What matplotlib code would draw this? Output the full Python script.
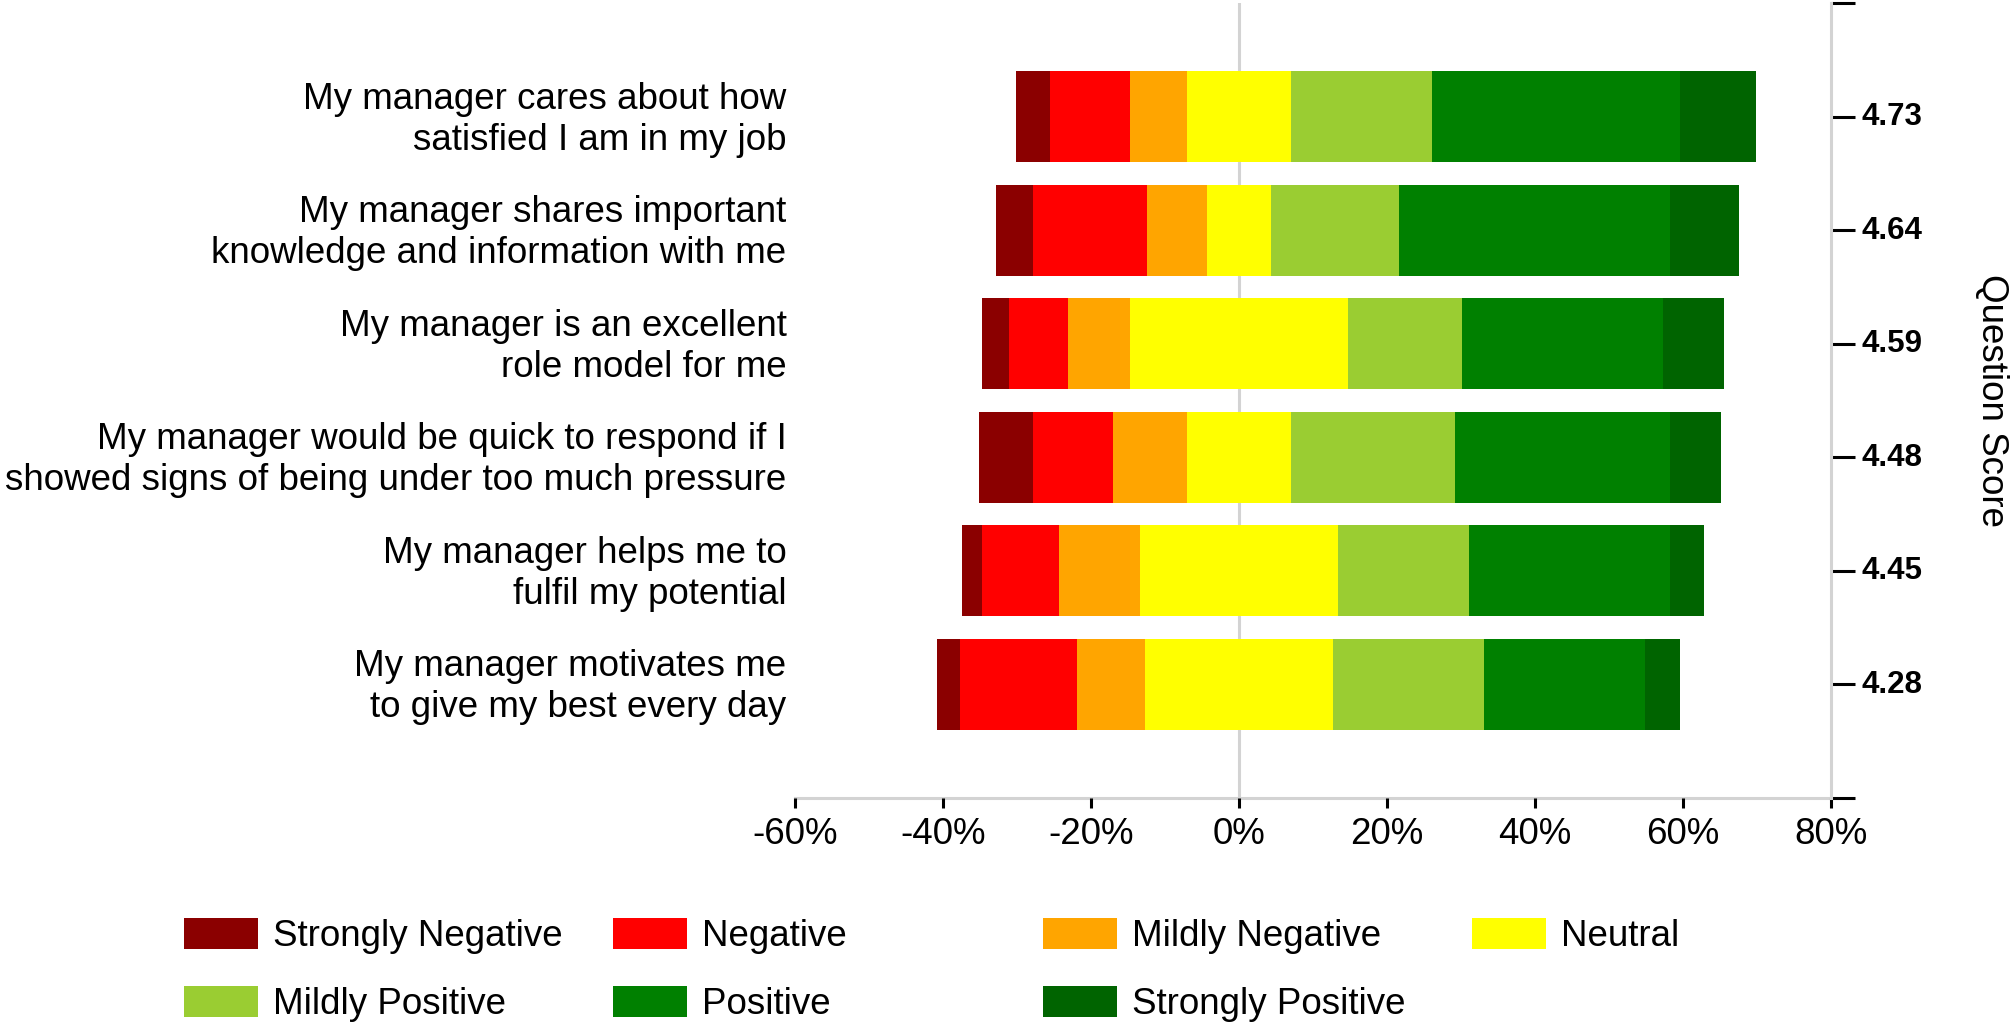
import matplotlib
matplotlib.use("Agg")
import matplotlib.pyplot as plt
from matplotlib.patches import Rectangle
from matplotlib.transforms import ScaledTranslation
import numpy as np

plt.rcParams['font.family'] = ['Liberation Sans', 'DejaVu Sans']

questions = [
    "My manager cares about how\nsatisfied I am in my job",
    "My manager shares important\nknowledge and information with me",
    "My manager is an excellent\nrole model for me",
    "My manager would be quick to respond if I\nshowed signs of being under too much pressure",
    "My manager helps me to\nfulfil my potential",
    "My manager motivates me\nto give my best every day",
]
scores = ["4.73", "4.64", "4.59", "4.48", "4.45", "4.28"]

strongly_negative = [4.5, 4.9, 3.7, 7.2, 2.7, 3.1]
negative = [10.9, 15.5, 8.0, 10.9, 10.4, 15.8]
mildly_negative = [7.7, 8.1, 8.3, 10.0, 10.9, 9.2]
neutral = [14.0, 8.6, 29.5, 14.0, 26.8, 25.3]
mildly_positive = [19.1, 17.3, 15.4, 22.2, 17.7, 20.4]
positive = [33.5, 36.7, 27.1, 29.1, 27.2, 21.8]
strongly_positive = [10.2, 9.2, 8.3, 6.9, 4.6, 4.7]

series_names = ["Strongly Negative", "Negative", "Mildly Negative", "Neutral",
                "Mildly Positive", "Positive", "Strongly Positive"]
series_colors = ["#8B0000", "#FF0000", "#FFA500", "#FFFF00",
                 "#9ACD32", "#008000", "#006400"]
xticks = [-60, -40, -20, 0, 20, 40, 60, 80]

W, H, DPI = 2015, 1023, 100
fig = plt.figure(figsize=(W / DPI, H / DPI), dpi=DPI)
ax = fig.add_axes([795 / W, 1 - 798 / H, (1831 - 795) / W, (798 - 3) / H])

data = np.array([strongly_negative, negative, mildly_negative, neutral,
                 mildly_positive, positive, strongly_positive])
n = len(questions)
ypos = np.arange(n, 0, -1)
left = -(data[0] + data[1] + data[2] + data[3] / 2.0)

grey = "#d3d3d3"
lw = 2.2
ax.axvline(0, color=grey, lw=lw, zorder=0)

for i in range(len(series_names)):
    ax.barh(ypos, data[i], left=left, height=0.8, color=series_colors[i],
            label=series_names[i], zorder=2, linewidth=0)
    left = left + data[i]

ax.set_xlim(-60, 80)
ax.set_ylim(0, n + 1)
ax.set_xticks(xticks)
ax.set_xticklabels([f"{v}%" for v in xticks])
ax.set_yticks(ypos)
ax.set_yticklabels(questions, fontsize=26.5, linespacing=1.22)
ax.tick_params(axis='y', length=0, pad=6.1)
ax.tick_params(axis='x', length=7, width=lw, color='black', pad=6.4, labelsize=26.5)
for s in ['left', 'top', 'right']:
    ax.spines[s].set_visible(False)
ax.spines['bottom'].set_color(grey)
ax.spines['bottom'].set_linewidth(lw)
ax.spines['bottom'].set_zorder(0)

up5 = ScaledTranslation(0, 4 / DPI, fig.dpi_scale_trans)
for lbl in ax.get_yticklabels():
    lbl.set_transform(lbl.get_transform() + up5)

ax2 = ax.twinx()
ax2.set_ylim(0, n + 1)
ax2.set_yticks(ypos)
ax2.set_yticklabels(scores, fontsize=22.5, fontweight='bold')
ax2.set_yticks([0, n + 1], minor=True)
ax2.tick_params(axis='y', which='both', length=17, width=lw, color='black', pad=5)
for s in ['left', 'top', 'bottom']:
    ax2.spines[s].set_visible(False)
ax2.spines['right'].set_color(grey)
ax2.spines['right'].set_linewidth(lw)
up3 = ScaledTranslation(0, 3 / DPI, fig.dpi_scale_trans)
for lbl in ax2.get_yticklabels():
    lbl.set_transform(lbl.get_transform() + up3)

fig.text(1992 / W, 1 - 400 / H, "Question Score", rotation=270,
         ha='center', va='center', fontsize=26.5)

# legend: 4 columns, row-major
col_x0, col_step = 184, 429.3
row_y = [933, 1001]
pw, ph = 74, 31
for i, (name, color) in enumerate(zip(series_names, series_colors)):
    r, c = divmod(i, 4)
    x = col_x0 + c * col_step
    y = row_y[r]
    fig.add_artist(Rectangle((x / W, 1 - (y + ph / 2) / H), pw / W, ph / H,
                             transform=fig.transFigure, facecolor=color,
                             edgecolor='none'))
    fig.text((x + pw + 15) / W, 1 - y / H, name, ha='left', va='center_baseline',
             fontsize=26.5)

fig.savefig("out.png", dpi=DPI)
